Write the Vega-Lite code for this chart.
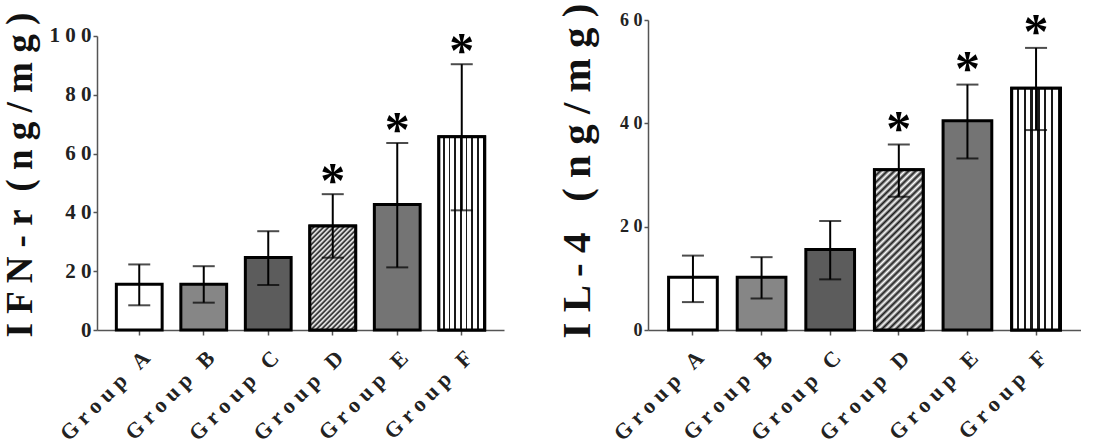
{
"$schema":"https://vega.github.io/schema/vega-lite/v6.json",
"padding":{"left":1,"top":0,"right":0,"bottom":0},
"background":"white",
"spacing":52,
"datasets":{
"ifn":[
{"group":"Group A","value":15.6,"lo":8.4,"hi":22.3,"star":""},
{"group":"Group B","value":15.6,"lo":9.3,"hi":21.7,"star":""},
{"group":"Group C","value":24.7,"lo":15.3,"hi":33.6,"star":""},
{"group":"Group D","value":35.4,"lo":24.6,"hi":46.2,"star":"*"},
{"group":"Group E","value":42.7,"lo":21.3,"hi":63.6,"star":"*"},
{"group":"Group F","value":65.7,"lo":40.7,"hi":90.4,"star":"*"}],
"il4":[
{"group":"Group A","value":10.2,"lo":5.4,"hi":14.4,"star":""},
{"group":"Group B","value":10.2,"lo":6.1,"hi":14.1,"star":""},
{"group":"Group C","value":15.6,"lo":9.8,"hi":21.1,"star":""},
{"group":"Group D","value":31.0,"lo":25.8,"hi":35.9,"star":"*"},
{"group":"Group E","value":40.5,"lo":33.2,"hi":47.5,"star":"*"},
{"group":"Group F","value":46.8,"lo":38.7,"hi":54.6,"star":"*"}]
},
"hconcat":[
{
"width":407,"height":310,
"data":{"name":"ifn"},
"encoding":{"x":{"field":"group","type":"nominal","scale":{"paddingInner":0.29,"paddingOuter":0.3},"axis":{"title":null}}},
"layer":[
{"mark":{"type":"bar","stroke":"black","strokeWidth":3},
 "encoding":{"y":{"field":"value","type":"quantitative","scale":{"domain":[0,105.44],"nice":false},"axis":{"title":"I F N - r \u00a0( n g / m g )","values":[0,20,40,60,80,100],"titleFontSize":37,"titlePadding":10,"titleY":317,"labelFontSize":21,"domainDash":[294,100]}},
 "fill":{"field":"group","type":"nominal","scale":{"domain":["Group A","Group B","Group C","Group D","Group E","Group F"],"range":["#ffffff","#868686","#5c5c5c","#ffffff","#747474","#ffffff"]},"legend":null}}},
{"transform":[{"filter":"datum.group == 'Group D'"}],
 "mark":{"type":"bar","stroke":"black","strokeWidth":3,"fill":{"gradient":"linear","x1":0,"y1":0,"x2":0.531,"y2":1.207,"stops":[
{"offset":0,"color":"#1a1a1a"},{"offset":0.016667,"color":"#ffffff"},{"offset":0.033333,"color":"#1a1a1a"},{"offset":0.05,"color":"#ffffff"},
{"offset":0.066667,"color":"#1a1a1a"},{"offset":0.083333,"color":"#ffffff"},{"offset":0.1,"color":"#1a1a1a"},{"offset":0.116667,"color":"#ffffff"},
{"offset":0.133333,"color":"#1a1a1a"},{"offset":0.15,"color":"#ffffff"},{"offset":0.166667,"color":"#1a1a1a"},{"offset":0.183333,"color":"#ffffff"},
{"offset":0.2,"color":"#1a1a1a"},{"offset":0.216667,"color":"#ffffff"},{"offset":0.233333,"color":"#1a1a1a"},{"offset":0.25,"color":"#ffffff"},
{"offset":0.266667,"color":"#1a1a1a"},{"offset":0.283333,"color":"#ffffff"},{"offset":0.3,"color":"#1a1a1a"},{"offset":0.316667,"color":"#ffffff"},
{"offset":0.333333,"color":"#1a1a1a"},{"offset":0.35,"color":"#ffffff"},{"offset":0.366667,"color":"#1a1a1a"},{"offset":0.383333,"color":"#ffffff"},
{"offset":0.4,"color":"#1a1a1a"},{"offset":0.416667,"color":"#ffffff"},{"offset":0.433333,"color":"#1a1a1a"},{"offset":0.45,"color":"#ffffff"},
{"offset":0.466667,"color":"#1a1a1a"},{"offset":0.483333,"color":"#ffffff"},{"offset":0.5,"color":"#1a1a1a"},{"offset":0.516667,"color":"#ffffff"},
{"offset":0.533333,"color":"#1a1a1a"},{"offset":0.55,"color":"#ffffff"},{"offset":0.566667,"color":"#1a1a1a"},{"offset":0.583333,"color":"#ffffff"},
{"offset":0.6,"color":"#1a1a1a"},{"offset":0.616667,"color":"#ffffff"},{"offset":0.633333,"color":"#1a1a1a"},{"offset":0.65,"color":"#ffffff"},
{"offset":0.666667,"color":"#1a1a1a"},{"offset":0.683333,"color":"#ffffff"},{"offset":0.7,"color":"#1a1a1a"},{"offset":0.716667,"color":"#ffffff"},
{"offset":0.733333,"color":"#1a1a1a"},{"offset":0.75,"color":"#ffffff"},{"offset":0.766667,"color":"#1a1a1a"},{"offset":0.783333,"color":"#ffffff"},
{"offset":0.8,"color":"#1a1a1a"},{"offset":0.816667,"color":"#ffffff"},{"offset":0.833333,"color":"#1a1a1a"},{"offset":0.85,"color":"#ffffff"},
{"offset":0.866667,"color":"#1a1a1a"},{"offset":0.883333,"color":"#ffffff"},{"offset":0.9,"color":"#1a1a1a"},{"offset":0.916667,"color":"#ffffff"},
{"offset":0.933333,"color":"#1a1a1a"},{"offset":0.95,"color":"#ffffff"},{"offset":0.966667,"color":"#1a1a1a"},{"offset":0.983333,"color":"#ffffff"},
{"offset":1,"color":"#1a1a1a"}]}},
 "encoding":{"y":{"field":"value","type":"quantitative"}}},
{"transform":[{"filter":"datum.group == 'Group F'"}],
 "mark":{"type":"bar","stroke":"black","strokeWidth":3,"fill":{"gradient":"linear","x1":0,"y1":0,"x2":1,"y2":0,"stops":[
{"offset":0,"color":"#ffffff"},{"offset":0.0875,"color":"#ffffff"},{"offset":0.0875,"color":"#1a1a1a"},{"offset":0.125,"color":"#1a1a1a"},
{"offset":0.125,"color":"#ffffff"},{"offset":0.2125,"color":"#ffffff"},{"offset":0.2125,"color":"#1a1a1a"},{"offset":0.25,"color":"#1a1a1a"},
{"offset":0.25,"color":"#ffffff"},{"offset":0.3375,"color":"#ffffff"},{"offset":0.3375,"color":"#1a1a1a"},{"offset":0.375,"color":"#1a1a1a"},
{"offset":0.375,"color":"#ffffff"},{"offset":0.4625,"color":"#ffffff"},{"offset":0.4625,"color":"#1a1a1a"},{"offset":0.5,"color":"#1a1a1a"},
{"offset":0.5,"color":"#ffffff"},{"offset":0.5875,"color":"#ffffff"},{"offset":0.5875,"color":"#1a1a1a"},{"offset":0.625,"color":"#1a1a1a"},
{"offset":0.625,"color":"#ffffff"},{"offset":0.7125,"color":"#ffffff"},{"offset":0.7125,"color":"#1a1a1a"},{"offset":0.75,"color":"#1a1a1a"},
{"offset":0.75,"color":"#ffffff"},{"offset":0.8375,"color":"#ffffff"},{"offset":0.8375,"color":"#1a1a1a"},{"offset":0.875,"color":"#1a1a1a"},
{"offset":0.875,"color":"#ffffff"},{"offset":0.9625,"color":"#ffffff"},{"offset":0.9625,"color":"#1a1a1a"},{"offset":1,"color":"#1a1a1a"}]}},
 "encoding":{"y":{"field":"value","type":"quantitative"}}},
{"mark":{"type":"rule","strokeWidth":2,"color":"black"},"encoding":{"y":{"field":"lo","type":"quantitative"},"y2":{"field":"hi"}}},
{"mark":{"type":"tick","size":22,"thickness":2,"color":"black"},"encoding":{"y":{"field":"hi","type":"quantitative"}}},
{"mark":{"type":"tick","size":22,"thickness":2,"color":"black"},"encoding":{"y":{"field":"lo","type":"quantitative"}}},
{"transform":[{"filter":"datum.star != ''"}],"mark":{"type":"text","dy":3,"fontSize":50,"font":"Liberation Serif","fontWeight":"bold","color":"black","baseline":"alphabetic","align":"center"},"encoding":{"y":{"field":"hi","type":"quantitative"},"text":{"field":"star"}}}
]
},
{
"width":433,"height":310,
"data":{"name":"il4"},
"encoding":{"x":{"field":"group","type":"nominal","scale":{"paddingInner":0.29,"paddingOuter":0.3},"axis":{"title":null}}},
"layer":[
{"mark":{"type":"bar","stroke":"black","strokeWidth":3},
 "encoding":{"y":{"field":"value","type":"quantitative","scale":{"domain":[0,60],"nice":false},"axis":{"title":"I L - 4 \u00a0 ( n g / m g )","values":[0,20,40,60],"titleFontSize":41,"titlePadding":21,"titleY":318,"labelFontSize":18}},
 "fill":{"field":"group","type":"nominal","scale":{"domain":["Group A","Group B","Group C","Group D","Group E","Group F"],"range":["#ffffff","#868686","#5c5c5c","#ffffff","#747474","#ffffff"]},"legend":null}}},
{"transform":[{"filter":"datum.group == 'Group D'"}],
 "mark":{"type":"bar","stroke":"black","strokeWidth":3,"fill":{"gradient":"linear","x1":0,"y1":0,"x2":0.357,"y2":1.193,"stops":[
{"offset":0,"color":"#1a1a1a"},{"offset":0.016667,"color":"#ffffff"},{"offset":0.033333,"color":"#1a1a1a"},{"offset":0.05,"color":"#ffffff"},
{"offset":0.066667,"color":"#1a1a1a"},{"offset":0.083333,"color":"#ffffff"},{"offset":0.1,"color":"#1a1a1a"},{"offset":0.116667,"color":"#ffffff"},
{"offset":0.133333,"color":"#1a1a1a"},{"offset":0.15,"color":"#ffffff"},{"offset":0.166667,"color":"#1a1a1a"},{"offset":0.183333,"color":"#ffffff"},
{"offset":0.2,"color":"#1a1a1a"},{"offset":0.216667,"color":"#ffffff"},{"offset":0.233333,"color":"#1a1a1a"},{"offset":0.25,"color":"#ffffff"},
{"offset":0.266667,"color":"#1a1a1a"},{"offset":0.283333,"color":"#ffffff"},{"offset":0.3,"color":"#1a1a1a"},{"offset":0.316667,"color":"#ffffff"},
{"offset":0.333333,"color":"#1a1a1a"},{"offset":0.35,"color":"#ffffff"},{"offset":0.366667,"color":"#1a1a1a"},{"offset":0.383333,"color":"#ffffff"},
{"offset":0.4,"color":"#1a1a1a"},{"offset":0.416667,"color":"#ffffff"},{"offset":0.433333,"color":"#1a1a1a"},{"offset":0.45,"color":"#ffffff"},
{"offset":0.466667,"color":"#1a1a1a"},{"offset":0.483333,"color":"#ffffff"},{"offset":0.5,"color":"#1a1a1a"},{"offset":0.516667,"color":"#ffffff"},
{"offset":0.533333,"color":"#1a1a1a"},{"offset":0.55,"color":"#ffffff"},{"offset":0.566667,"color":"#1a1a1a"},{"offset":0.583333,"color":"#ffffff"},
{"offset":0.6,"color":"#1a1a1a"},{"offset":0.616667,"color":"#ffffff"},{"offset":0.633333,"color":"#1a1a1a"},{"offset":0.65,"color":"#ffffff"},
{"offset":0.666667,"color":"#1a1a1a"},{"offset":0.683333,"color":"#ffffff"},{"offset":0.7,"color":"#1a1a1a"},{"offset":0.716667,"color":"#ffffff"},
{"offset":0.733333,"color":"#1a1a1a"},{"offset":0.75,"color":"#ffffff"},{"offset":0.766667,"color":"#1a1a1a"},{"offset":0.783333,"color":"#ffffff"},
{"offset":0.8,"color":"#1a1a1a"},{"offset":0.816667,"color":"#ffffff"},{"offset":0.833333,"color":"#1a1a1a"},{"offset":0.85,"color":"#ffffff"},
{"offset":0.866667,"color":"#1a1a1a"},{"offset":0.883333,"color":"#ffffff"},{"offset":0.9,"color":"#1a1a1a"},{"offset":0.916667,"color":"#ffffff"},
{"offset":0.933333,"color":"#1a1a1a"},{"offset":0.95,"color":"#ffffff"},{"offset":0.966667,"color":"#1a1a1a"},{"offset":0.983333,"color":"#ffffff"},
{"offset":1,"color":"#1a1a1a"}]}},
 "encoding":{"y":{"field":"value","type":"quantitative"}}},
{"transform":[{"filter":"datum.group == 'Group F'"}],
 "mark":{"type":"bar","stroke":"black","strokeWidth":3,"fill":{"gradient":"linear","x1":0,"y1":0,"x2":1,"y2":0,"stops":[
{"offset":0,"color":"#ffffff"},{"offset":0.1,"color":"#ffffff"},{"offset":0.1,"color":"#1a1a1a"},{"offset":0.142857,"color":"#1a1a1a"},
{"offset":0.142857,"color":"#ffffff"},{"offset":0.242857,"color":"#ffffff"},{"offset":0.242857,"color":"#1a1a1a"},{"offset":0.285714,"color":"#1a1a1a"},
{"offset":0.285714,"color":"#ffffff"},{"offset":0.385714,"color":"#ffffff"},{"offset":0.385714,"color":"#1a1a1a"},{"offset":0.428571,"color":"#1a1a1a"},
{"offset":0.428571,"color":"#ffffff"},{"offset":0.528571,"color":"#ffffff"},{"offset":0.528571,"color":"#1a1a1a"},{"offset":0.571429,"color":"#1a1a1a"},
{"offset":0.571429,"color":"#ffffff"},{"offset":0.671429,"color":"#ffffff"},{"offset":0.671429,"color":"#1a1a1a"},{"offset":0.714286,"color":"#1a1a1a"},
{"offset":0.714286,"color":"#ffffff"},{"offset":0.814286,"color":"#ffffff"},{"offset":0.814286,"color":"#1a1a1a"},{"offset":0.857143,"color":"#1a1a1a"},
{"offset":0.857143,"color":"#ffffff"},{"offset":0.957143,"color":"#ffffff"},{"offset":0.957143,"color":"#1a1a1a"},{"offset":1,"color":"#1a1a1a"}]}},
 "encoding":{"y":{"field":"value","type":"quantitative"}}},
{"mark":{"type":"rule","strokeWidth":2,"color":"black"},"encoding":{"y":{"field":"lo","type":"quantitative"},"y2":{"field":"hi"}}},
{"mark":{"type":"tick","size":22,"thickness":2,"color":"black"},"encoding":{"y":{"field":"hi","type":"quantitative"}}},
{"mark":{"type":"tick","size":22,"thickness":2,"color":"black"},"encoding":{"y":{"field":"lo","type":"quantitative"}}},
{"transform":[{"filter":"datum.star != ''"}],"mark":{"type":"text","dy":0,"fontSize":50,"font":"Liberation Serif","fontWeight":"bold","color":"black","baseline":"alphabetic","align":"center"},"encoding":{"y":{"field":"hi","type":"quantitative"},"text":{"field":"star"}}}
]
}
],
"config":{
"view":{"stroke":null},
"font":"Liberation Serif",
"axis":{"grid":false,"domainColor":"#555555","domainWidth":1.5,"tickColor":"#555555","tickWidth":1.5,"tickSize":4,"labelPadding":2,
"labelFont":"Liberation Serif","labelFontWeight":"bold","labelColor":"#222222",
"titleFont":"Liberation Serif","titleFontWeight":"bold","titleColor":"#111111","titleAnchor":"start"},
"axisY":{"labelExpr":"join(split(datum.label,''),' ')"},
"axisX":{"labelAngle":315,"labelAlign":"right","labelBaseline":"top","labelFontSize":22,"labelPadding":12,"tickSize":5,"labelExpr":"join(split(datum.label,''),'\u00a0')"}
}
}
